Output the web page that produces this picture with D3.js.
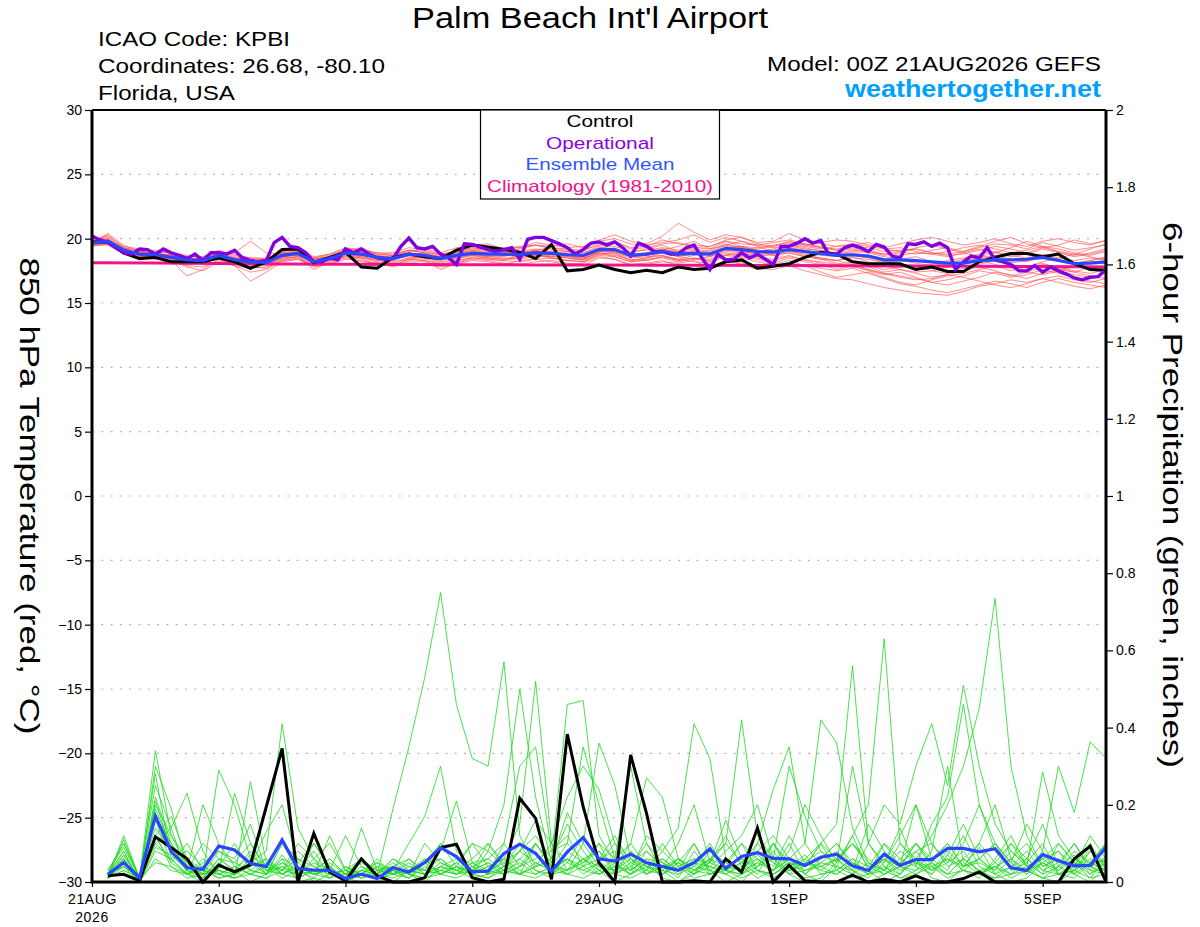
<!DOCTYPE html>
<html>
<head>
<meta charset="utf-8">
<script src="https://cdn.jsdelivr.net/npm/d3@7"></script>
<style>
  body { margin: 0; background: #fff; }
  text { font-family: "Liberation Sans", Arial, sans-serif; }
</style>
</head>
<body>
<svg id="chart" width="1200" height="927"></svg>
<script>
"use strict";

// ---- data ----

// hours after 00Z 21AUG2026
var tempStepHours = 6,
    opStepHours = 3,
    climStepHours = 24,
    precipStepHours = 6;

var dateTickHours = [0, 48, 96, 144, 192, 264, 312, 360];
var dateTickLabels = ["21AUG", "23AUG", "25AUG", "27AUG", "29AUG", "1SEP", "3SEP", "5SEP"];
var tempTicks = [-30, -25, -20, -15, -10, -5, 0, 5, 10, 15, 20, 25, 30];
var precipTicks = [0, 0.2, 0.4, 0.6, 0.8, 1, 1.2, 1.4, 1.6, 1.8, 2];

// 850 hPa temperature, control (6-hourly from 0h)
var controlTemp = [19.75,19.75,18.9,18.45,18.55,18.2,18.2,18.2,18.5,18.2,17.7,18.2,19.15,19.2,18.15,18.55,
  18.95,17.8,17.7,18.55,18.8,18.6,18.45,19.1,19.5,19.35,19.15,18.95,18.45,19.55,17.5,17.6,
  17.95,17.6,17.35,17.55,17.35,17.8,17.6,17.7,18.2,18.35,17.7,17.85,18.05,18.55,18.95,18.8,
  18.2,18.05,18.05,18.05,17.6,17.8,17.45,17.45,18.2,18.55,18.85,18.85,18.6,18.8,18.05,17.6,17.55];

// operational run (3-hourly from 0h)
var operationalTemp = [20.2,19.9,19.7,19.3,18.9,18.8,19.2,19.15,18.8,19.2,18.9,18.7,18.45,18.8,18.3,18.9,
  18.9,18.8,19.1,18.5,18.3,18.2,18.3,19.7,20.1,19.4,19.3,18.9,18.2,18.2,18.5,18.35,
  19.2,18.9,19.2,18.8,18.5,18.4,18.45,19.4,20.05,19.3,19.2,19.4,18.8,18.5,18.0,19.6,
  19.55,19.35,19.15,19.0,19.15,19.3,18.4,19.95,20.1,20.1,19.85,19.6,19.3,18.8,19.15,19.65,
  19.75,19.5,19.75,19.3,18.65,19.65,19.4,19.0,19.0,18.8,18.8,19.3,19.5,18.5,17.6,18.8,
  18.35,18.4,18.9,18.5,18.8,18.4,18.0,19.4,19.4,19.65,20.0,19.65,19.85,18.8,18.8,19.3,
  19.5,19.3,19.0,19.55,19.35,18.65,18.5,19.6,19.55,19.75,19.4,19.65,19.3,17.6,18.2,18.65,
  18.5,19.3,18.35,18.2,18.0,17.5,17.5,17.9,17.4,17.8,17.5,17.25,16.95,16.8,17.0,17.05,17.6];

// ensemble mean (6-hourly from 0h)
var meanTemp = [19.65,19.8,19.1,18.8,18.75,18.55,18.35,18.3,18.7,18.35,18.2,18.15,18.7,18.85,18.2,18.45,
  18.9,18.8,18.55,18.45,18.8,18.7,18.45,18.7,18.85,18.8,18.8,18.75,18.9,18.85,18.75,18.7,
  19.15,19.15,18.7,18.8,19.0,18.8,18.85,18.8,19.25,19.15,19.0,18.95,19.15,19.0,18.85,18.7,
  18.75,18.65,18.35,18.35,18.3,18.2,18.1,18.1,18.3,18.35,18.35,18.4,18.55,18.3,18.05,18.1,18.2];

// climatology 1981-2010 (daily at 00Z)
var climTemp = [18.12,18.1,18.07,18.04,18.01,17.99,17.97,17.96,17.95,17.94,17.93,17.92,17.9,17.88,17.86,17.83,17.8];

// ensemble members, 850 hPa temperature (6-hourly from 0h)
var memberTemp = [
  [19.8,20.1,19.3,19.0,18.9,18.9,18.6,18.6, 19.0,18.8,18.5,18.4,19.0,19.3,18.6,18.8, 19.2,19.1,18.9,18.9,19.3,19.1,18.8,19.0, 19.3,19.1,19.2,19.4,19.5,19.2,19.0,19.1, 19.6,19.8,19.3,19.4,19.9,19.6,19.5,19.4, 19.9,20.1,19.6,19.4,19.8,19.5,19.3,19.2, 19.4,19.3,19.0,19.1,19.2,18.9,18.8,19.0, 19.3,19.6,19.5,19.2,19.7,19.4,19.1,19.3,19.5],
  [19.6,19.7,18.9,18.6,18.5,18.3,17.8,17.5, 18.2,17.9,17.4,17.6,18.3,18.5,17.9,18.1, 18.6,18.4,18.0,17.9,18.3,18.2,17.9,18.1, 18.4,18.3,18.1,18.0,18.2,18.3,18.1,17.9, 18.5,18.4,18.0,18.1,18.3,17.9,18.0,17.8, 18.3,18.1,17.7,17.6,17.9,17.5,17.2,16.9, 16.8,16.5,16.2,16.0,15.8,15.7,15.6,15.9, 16.3,16.5,16.8,16.6,16.9,17.1,16.8,16.6,16.9],
  [19.7,20.4,19.5,19.0,19.1,18.9,18.7,18.5, 18.9,18.6,18.3,18.4,18.9,19.1,18.5,18.7, 19.1,19.3,18.8,18.7,19.0,19.2,18.9,19.3, 19.5,19.6,19.2,19.3,19.7,19.5,19.3,19.4, 19.9,20.3,19.8,19.6,20.2,21.2,20.5,19.9, 20.3,20.1,19.7,19.8,20.4,19.9,19.6,19.4, 19.5,19.7,19.2,19.0,18.8,19.1,19.3,19.0, 19.4,19.8,20.1,19.6,19.3,19.5,19.9,19.6,19.8],
  [19.5,19.6,18.8,18.5,18.4,18.3,17.1,17.6, 18.4,18.0,17.8,17.7,18.4,18.6,17.6,18.2, 18.7,18.5,18.3,18.1,18.5,18.4,18.0,18.2, 18.6,18.5,18.4,18.6,18.7,18.6,18.5,18.3, 18.8,18.9,18.3,18.5,18.7,18.3,18.5,18.2, 18.8,18.6,18.4,18.1,18.5,18.2,18.0,17.6, 17.9,17.5,17.2,17.4,17.0,16.6,16.8,17.1, 17.5,17.3,17.0,17.2,17.6,17.3,17.0,16.7,16.5],
  [19.9,19.9,19.3,19.1,18.7,18.8,18.5,18.4, 18.6,18.9,19.8,18.9,18.8,18.9,18.4,18.6, 19.0,18.9,18.5,18.7,19.1,18.9,18.6,18.8, 19.1,18.9,19.0,18.8,19.1,19.3,19.1,18.9, 19.4,19.1,18.9,19.2,19.5,19.0,19.3,19.2, 19.8,19.4,19.3,19.5,19.7,19.6,19.4,19.1, 19.2,19.0,18.7,18.9,19.3,19.5,19.2,18.9, 18.6,18.9,19.3,19.8,19.4,19.0,18.8,19.2,19.6],
  [19.4,19.6,18.9,18.6,18.6,18.3,18.0,18.1, 18.5,17.9,16.7,17.4,18.2,18.4,17.9,18.0, 18.5,18.2,18.1,17.8,18.2,18.0,17.8,18.0, 18.3,18.2,18.0,18.3,18.4,18.2,18.0,18.1, 18.6,18.4,17.9,18.0,18.2,18.1,18.3,17.7, 18.3,18.0,17.6,17.8,18.1,17.9,17.4,17.0, 17.2,17.4,17.0,16.6,16.4,16.8,17.1,17.3, 17.6,17.9,17.5,17.8,18.1,17.7,17.4,17.8,17.4],
  [19.8,20.0,19.2,18.9,18.9,18.7,18.3,18.2, 18.8,18.3,18.1,18.0,18.6,18.7,18.1,18.4, 18.8,18.7,18.6,18.4,18.7,18.6,18.3,18.6, 18.8,18.7,18.6,18.9,19.0,18.8,18.6,18.5, 19.0,19.3,18.6,18.7,18.9,18.6,18.8,19.1, 19.6,19.3,19.1,18.7,18.9,18.6,18.5,18.3, 18.6,18.2,17.9,17.6,17.4,17.5,17.8,18.0, 18.3,18.0,17.7,17.4,17.2,17.5,17.9,18.2,18.0],
  [19.6,19.9,19.0,18.9,18.9,18.6,18.5,18.4, 18.9,18.5,18.3,18.3,18.9,19.0,18.4,18.6, 19.0,19.0,18.7,18.6,18.9,18.8,18.6,18.9, 19.1,19.0,19.1,19.0,19.2,19.1,19.0,18.9, 19.3,19.4,19.0,19.1,19.3,19.1,19.2,19.0, 19.5,19.3,19.2,19.4,19.6,19.5,19.7,19.9, 19.8,19.5,19.3,19.6,19.9,20.1,19.8,19.5, 19.7,20.0,19.6,19.4,19.8,20.0,19.7,19.5,19.9],
  [19.7,19.6,19.0,18.7,18.6,18.4,18.2,18.4, 18.6,18.4,18.1,18.2,18.6,18.8,18.1,18.3, 18.7,18.6,18.4,18.5,18.6,18.5,18.1,18.5, 18.7,18.6,18.5,18.4,18.6,18.7,18.5,18.4, 18.9,18.8,18.3,18.5,18.9,18.6,18.4,18.6, 19.0,18.9,18.6,18.8,19.0,18.8,18.5,18.3, 18.0,17.6,17.3,17.0,16.8,16.9,17.2,17.0, 16.7,16.4,16.2,16.5,16.9,16.6,16.3,16.1,16.4],
  [19.6,19.8,19.2,18.8,18.7,18.4,18.4,18.0, 18.7,18.2,18.0,17.9,18.5,18.9,18.0,18.4, 18.9,18.8,18.7,18.4,18.8,18.7,18.4,18.6, 18.9,18.8,18.9,18.7,19.0,18.9,18.9,18.7, 19.2,19.1,18.8,18.7,19.2,18.9,19.0,18.7, 19.3,19.2,19.0,19.1,19.3,19.1,18.9,18.8, 19.0,18.9,18.6,18.4,18.6,18.2,17.9,18.2, 18.5,18.7,18.4,18.2,18.6,18.3,18.0,18.3,18.5],
  [19.8,19.7,19.1,18.7,18.7,18.5,18.2,18.1, 18.5,18.1,18.0,18.0,18.5,18.6,18.0,18.3, 18.6,18.5,18.2,17.9,18.4,18.3,17.6,18.1, 18.5,18.4,18.3,18.5,18.7,18.5,18.3,18.2, 18.8,18.7,18.4,18.3,18.6,18.4,18.2,18.1, 18.7,18.9,18.6,18.4,18.7,18.3,18.2,18.0, 18.2,17.9,17.6,17.8,17.9,17.5,17.3,17.7, 18.0,18.3,18.0,17.7,18.0,17.8,17.5,17.3,17.6],
  [19.9,20.2,19.4,19.2,19.0,18.9,18.6,18.6, 19.1,18.7,18.5,18.5,19.0,19.2,18.5,18.8, 19.3,19.1,18.9,18.8,19.1,18.9,18.8,19.0, 19.3,19.2,19.3,19.3,19.5,19.3,19.2,19.1, 19.5,19.7,19.2,19.3,19.6,19.7,19.3,19.4, 19.8,19.6,19.5,19.3,19.5,19.4,19.2,19.4, 19.6,19.4,19.2,19.3,19.0,18.8,19.0,19.3, 19.5,19.2,18.9,19.1,19.4,19.2,18.9,18.7,19.0],
  [19.7,19.8,19.1,18.7,18.8,18.7,18.3,18.3, 18.6,18.3,17.9,18.1,18.6,18.7,18.2,18.5, 18.8,18.7,18.5,18.3,18.7,18.5,18.4,18.5, 18.8,18.6,18.7,18.6,18.8,18.6,18.6,18.4, 19.0,18.9,18.5,18.6,18.7,18.4,18.7,18.9, 19.2,19.0,18.8,18.9,19.1,18.7,18.4,18.1, 17.8,17.6,17.3,17.1,16.9,16.6,16.4,16.7, 17.0,17.4,17.2,16.9,17.3,17.6,17.4,17.1,16.9],
  [19.5,19.7,19.0,18.6,18.6,18.5,18.3,18.2, 18.5,18.3,18.1,18.0,18.4,18.6,17.9,18.3, 18.8,18.6,18.3,18.2,18.5,18.6,18.2,18.4, 18.7,18.5,18.4,18.7,18.8,18.5,18.3,18.4, 18.9,18.6,18.2,18.4,18.5,18.2,18.4,18.3, 18.7,18.5,18.2,18.0,18.3,17.9,17.7,17.5, 17.7,17.3,16.9,16.5,16.3,16.0,15.8,16.1, 16.4,16.7,16.5,16.2,16.6,16.9,16.6,16.4,16.2],
  [19.8,20.0,19.2,18.9,18.8,18.7,18.4,18.3, 18.8,18.4,18.2,18.1,18.8,18.9,18.2,18.5, 19.0,18.9,18.6,18.5,18.8,18.6,18.4,18.7, 19.0,18.9,18.8,18.9,19.1,18.9,18.8,18.6, 19.1,19.0,18.7,18.8,19.1,19.0,18.9,18.8, 19.3,19.4,19.1,19.0,19.4,19.2,19.1,18.9, 19.1,19.0,18.8,18.7,18.9,18.8,18.6,18.9, 19.2,18.9,18.6,18.8,19.2,18.9,18.6,18.8,19.1],
  [19.6,19.9,19.2,18.9,18.9,18.6,18.4,18.5, 18.8,18.5,18.4,18.4,18.8,19.0,18.4,18.6, 19.1,19.0,18.8,18.7,19.1,19.0,18.7,18.9, 19.2,19.1,19.0,19.2,19.5,19.4,19.6,19.3, 19.8,20.0,19.6,19.5,19.7,19.9,20.3,19.7, 20.1,19.8,19.5,19.7,19.9,19.6,19.3,19.1, 19.3,19.1,18.8,19.0,19.2,18.9,18.7,18.8, 19.1,19.4,19.2,18.9,19.3,19.0,18.7,18.9,19.2],
  [19.5,19.5,18.8,18.5,18.4,18.2,17.9,17.8, 18.3,17.9,17.7,17.8,18.3,18.4,17.8,18.0, 18.4,18.3,18.1,18.0,18.4,18.3,18.0,18.3, 18.5,18.4,18.3,18.2,18.4,18.5,18.3,18.2, 18.7,18.6,18.2,18.3,18.6,18.3,18.5,18.4, 18.9,18.7,18.5,18.3,18.6,18.4,18.1,17.8, 18.0,17.8,17.4,17.6,17.3,17.0,17.2,17.5, 17.8,17.5,17.1,17.4,17.8,17.5,17.2,17.0,17.3],
  [19.7,20.3,19.3,18.8,18.9,18.6,18.4,18.3, 18.6,18.5,18.2,18.2,18.7,18.8,18.3,18.4, 18.9,18.8,18.6,18.5,18.8,18.8,18.5,18.8, 19.0,18.8,18.9,18.9,19.0,19.0,18.8,18.7, 19.2,19.0,18.6,18.9,19.1,19.4,19.8,19.2, 19.5,19.8,19.4,19.0,19.2,18.9,18.7,18.6, 18.7,18.5,18.2,18.0,17.8,18.0,18.3,18.5, 18.8,19.0,18.7,18.5,18.8,18.5,18.3,18.5,18.4],
  [19.6,19.8,19.1,18.8,18.7,18.5,18.3,18.4, 18.7,18.4,18.2,18.2,18.7,18.8,18.2,18.4, 18.8,18.7,18.5,18.4,18.7,18.6,18.4,18.6, 18.9,18.8,18.7,18.7,18.9,18.8,18.7,18.6, 19.1,19.0,18.6,18.7,18.9,18.7,18.8,18.6, 19.1,19.0,18.8,18.7,18.9,18.6,18.4,18.3, 18.5,18.4,18.1,18.3,18.1,17.9,18.1,18.4, 18.7,18.4,18.1,18.3,18.7,18.4,18.1,18.3,18.6],
  [19.8,19.9,19.2,18.8,18.8,18.6,18.4,18.2, 18.7,18.4,18.1,18.2,18.8,18.9,18.1,18.6, 18.9,18.8,18.6,18.4,18.8,18.7,18.5,18.7, 18.9,18.8,18.7,18.9,19.1,18.8,18.7,18.5, 19.0,19.1,18.8,18.9,19.2,18.9,19.1,18.9, 19.4,19.2,19.0,19.2,19.5,19.3,19.0,18.7, 18.9,18.6,18.3,18.0,17.9,17.7,17.9,18.2, 18.5,18.3,18.0,17.8,18.2,18.5,18.8,18.6,18.3]
];

// 6-hour precipitation, inches (valid at 6h, 12h, ... 384h)
var controlPrecip = [.016,.02,.003,.117,.089,.06,0,.044, .026,.045,.195,.346,0,.126,.026,.003,
  .06,.016,0,0,.011,.089,.098,.011, 0,.007,.217,.165,.007,.383,.195,.05,
  0,.329,.178,0,0,.003,0,.06, .026,.14,0,.043,.003,0,0,.018,
  0,.007,0,.016,0,0,.009,.026, 0,0,0,0,0,.06,.093,0];

var meanPrecip = [.02,.05,.011,.171,.079,.037,.033,.093, .083,.048,.04,.109,.035,.031,.03,.009,
  .02,.009,.037,.026,.05,.089,.066,.026, .028,.074,.098,.074,.027,.078,.115,.06,
  .054,.072,.05,.04,.03,.05,.086,.035, .066,.076,.061,.06,.043,.064,.072,.042,
  .03,.072,.043,.058,.058,.087,.087,.078, .086,.037,.03,.071,.055,.042,.043,.089];

var memberPrecip = [
  [.02,.08,0,.12,.05,.02,0,.04, .03,0,.02,.06,0,.01,0,0, .02,.02,.19,.35,.53,.75,.46,.32, .30,.57,.12,.04,.06,.15,.08,.03, 0,.02,.05,.01,0,.03,.06,.02, 0,.04,.08,.02,0,.01,.05,.12, .03,0,.02,.06,.01,0,.04,.09, .02,0,.01,.05,.08,.02,0,.04],
  [.03,.1,.01,.34,.12,.06,.02,.08, .05,.1,.03,.02,.04,0,.02,.01, 0,0,.03,.01,.05,.1,.04,.02, .08,.2,.5,.22,.05,.18,.1,.36, .25,.06,.02,.04,.01,.08,.03,0, .02,.06,.03,.1,.02,0,.04,.03, .01,.05,.14,.04,.02,.07,.03,.01, .06,.12,.04,.01,0,.03,.09,.02],
  [.01,.06,0,.3,.19,.04,.01,.03, .02,.05,.08,.41,.14,.06,.03,.01, .02,.01,0,.03,.02,.08,.21,.05, .02,.06,.15,.52,.1,.03,.05,.08, .02,.04,.1,.03,0,.02,.05,.12, .04,.01,.03,.06,.02,.05,.08,.03, 0,.02,.04,.1,.05,.02,.06,.03, .01,.04,.08,.03,.02,.05,.01,.06],
  [.02,.04,.01,.25,.14,.23,.08,.02, .01,.03,.06,.02,.05,.1,.04,0, .03,.02,.05,.02,0,.04,.06,.03, .1,.04,.08,.12,.06,.46,.47,.12, .05,.02,.08,.04,.06,.03,.02,.05, .1,.03,.01,.04,.07,.02,.03,.06, .02,.04,.01,.03,.08,.3,.05,.02, .04,.01,.03,.08,.02,.01,.05,.03],
  [.01,.05,0,.21,.08,.03,.2,.1, .04,.02,.01,.05,.02,.03,.01,.02, .05,.03,.02,.06,.03,.02,.05,.1, .04,.02,.06,.03,.01,.08,.05,.1, .06,.03,.12,.08,.14,.41,.32,.06, .03,.08,.05,.02,.06,.1,.15,.56, .1,.04,.02,.06,.03,.05,.12,.04, .02,.06,.03,.01,.04,.1,.03,.02],
  [.02,.07,.01,.17,.1,.05,.02,.29, .2,.06,.02,.04,.01,.03,.06,.02, .01,.04,.02,.01,.04,.03,.02,.05, .03,.05,.02,.1,.04,.02,.06,.04, .02,.08,.04,.02,.05,.03,.06,.1, .42,.12,.06,.03,.05,.08,.04,.12, .2,.63,.1,.05,.03,.08,.04,.06, .1,.03,.05,.02,.04,.07,.02,.05],
  [.01,.04,0,.08,.06,.02,.04,.02, .01,.26,.05,.02,.04,.02,.12,.03, .02,.01,.04,.02,.01,.03,.02,.04, .02,.03,.05,.02,.04,.06,.03,.05, .1,.04,.02,.06,.03,.05,.04,.02, .05,.1,.24,.35,.1,.42,.36,.14, .05,.03,.1,.06,.12,.2,.3,.45, .735,.3,.12,.04,.06,.03,.08,.05],
  [.02,.1,.01,.14,.08,.03,.01,.05, .02,.04,.13,.2,.05,.02,.03,.12, .04,.02,.01,.03,.06,.02,.01,.03, .05,.02,.04,.08,.02,.03,.06,.02, .04,.03,.06,.02,.05,.1,.03,.02, .04,.06,.02,.05,.03,.04,.06,.02, .1,.2,.15,.3,.41,.25,.51,.3, .15,.08,.04,.285,.12,.06,.03,.1],
  [.01,.03,.01,.12,.17,.06,.03,.02, .04,.02,.01,.03,.02,.1,.04,.01, .14,.03,.02,.05,.02,.04,.03,.02, .01,.04,.02,.05,.03,.06,.04,.02, .05,.02,.04,.03,.06,.02,.04,.03, .02,.05,.03,.06,.1,.04,.02,.05, .03,.06,.04,.02,.05,.1,.04,.06, .1,.05,.15,.08,.3,.18,.363,.32],
  [.02,.06,0,.2,.12,.04,.02,.03, .23,.1,.04,.03,.06,.02,.01,.04, .02,.05,.03,.1,.17,.3,.08,.04, .06,.1,.3,.35,.08,.1,.35,.2, .06,.3,.1,.05,.02,.06,.04,.08, .12,.2,.06,.3,.17,.08,.05,.1, .06,.03,.08,.05,.02,.07,.15,.06, .03,.08,.05,.1,.02,.04,.12,.06],
  [.01,.12,.01,.1,.14,.02,.05,.08, .06,.15,.03,.05,.03,.08,.02,.01, .03,.02,.06,.04,.03,.1,.06,.02, .04,.06,.02,.04,.05,.03,.06,.08, .04,.1,.27,.22,.06,.03,.05,.16, .06,.04,.1,.05,.02,.06,.1,.04, .02,.1,.04,.2,.1,.05,.08,.02, .05,.02,.04,.06,.1,.05,.02,.07],
  [.02,.05,0,.06,.03,.02,.01,.06, .03,.08,.02,.1,.03,.01,.05,.02, .06,.01,.02,.03,.05,.02,.04,.1, .08,.04,.1,.03,.02,.05,.12,.06, .12,.05,.03,.1,.04,.02,.08,.05, .03,.07,.04,.12,.05,.03,.06,.1, .04,.02,.05,.08,.03,.06,.04,.1, .2,.06,.1,.04,.06,.02,.05,.1],
  [.03,.09,.01,.28,.06,.08,.04,.01, .02,.04,.06,.03,.08,.04,.02,.03, .01,.03,.04,.02,.05,.06,.03,.01, .02,.1,.04,.06,.08,.12,.04,.1, .02,.05,.08,.04,.1,.2,.05,.03, .02,.1,.05,.03,.04,.1,.06,.03, .15,.08,.04,.1,.06,.03,.1,.2, .1,.05,.02,.06,.08,.04,.1,.03],
  [.01,.07,0,.22,.1,.03,.02,.04, .1,.03,.02,.07,.02,.05,.03,.02, .02,.04,.03,.01,.06,.02,.04,.03, .03,.02,.04,.1,.05,.02,.04,.06, .08,.03,.06,.05,.03,.1,.02,.04, .06,.03,.02,.05,.04,.1,.03,.06, .04,.1,.06,.04,.15,.22,.46,.2, .08,.04,.06,.02,.1,.05,.04,.02],
  [.02,.04,.01,.16,.05,.1,.03,.02, .04,.02,.05,.03,.1,.06,.01,.04, .02,.06,.02,.03,.02,.04,.02,.05, .06,.03,.08,.05,.03,.06,.02,.05, .03,.06,.04,.02,.06,.04,.1,.03, .05,.02,.1,.04,.06,.03,.02,.05, .02,.06,.03,.05,.04,.02,.06,.03, .04,.06,.02,.05,.03,.06,.04,.02],
  [.01,.06,0,.12,.04,.02,.06,.03, .02,.05,.02,.06,.04,.02,.03,.01, .04,.02,.06,.03,.02,.05,.03,.04, .02,.04,.06,.1,.04,.03,.1,.04, .03,.08,.02,.04,.05,.02,.06,.04, .1,.06,.03,.08,.2,.12,.05,.3, .1,.05,.12,.2,.06,.1,.04,.05, .03,.1,.06,.15,.04,.02,.08,.04],
  [.02,.11,.01,.19,.09,.04,.01,.06, .03,.07,.04,.02,.01,.03,.06,.02, .03,.05,.02,.04,.03,.06,.02,.03, .05,.03,.02,.04,.1,.05,.03,.02, .04,.02,.05,.03,.02,.04,.03,.06, .02,.04,.06,.02,.03,.05,.04,.02, .05,.02,.04,.03,.05,.02,.03,.06, .02,.04,.03,.05,.02,.03,.06,.05],
  [.01,.03,.01,.05,.04,.01,.02,.03, .01,.02,.04,.01,.03,.02,.04,.01, .02,.01,.03,.02,.01,.02,.04,.02, .01,.03,.02,.01,.03,.02,.01,.03, .02,.01,.03,.02,.04,.01,.02,.03, .01,.03,.02,.04,.01,.02,.03,.01, .02,.03,.01,.02,.04,.01,.03,.02, .01,.02,.03,.01,.02,.03,.01,.02],
  [.02,.08,0,.09,.07,.03,.1,.06, .05,.03,.02,.1,.06,.04,.02,.03, .06,.03,.04,.02,.1,.05,.03,.06, .1,.05,.08,.16,.1,.22,.3,.24, .1,.06,.03,.08,.04,.06,.05,.1, .05,.08,.12,.06,.04,.06,.1,.05, .03,.06,.02,.08,.1,.04,.06,.1, .05,.1,.04,.06,.03,.08,.05,.1],
  [.01,.05,.01,.1,.06,.02,.03,.01, .02,.06,.03,.04,.02,.06,.1,.03, .01,.02,.04,.06,.02,.03,.05,.02, .04,.06,.03,.02,.04,.1,.06,.03, .06,.1,.04,.06,.03,.05,.02,.04, .03,.05,.1,.03,.05,.04,.06,.1, .05,.03,.06,.1,.04,.06,.03,.02, .04,.02,.06,.03,.05,.1,.04,.06]
];

// ---- layout ----
var svg = d3.select("#chart");
var plotLeft = 92, plotRight = 1106, plotTop = 110, plotBottom = 882;

var x = d3.scaleLinear().domain([0, 384]).range([plotLeft, plotRight]);
var yT = d3.scaleLinear().domain([-30, 30]).range([plotBottom, plotTop]);
var yP = d3.scaleLinear().domain([0, 2]).range([plotBottom, plotTop]);

svg.append("rect").attr("width", 1200).attr("height", 927).attr("fill", "#fff");

// dotted grid on temperature ticks
svg.append("g")
    .selectAll("line")
    .data(tempTicks.filter(function (t) { return t > -30 && t < 30; }))
    .enter().append("line")
    .attr("x1", plotLeft).attr("x2", plotRight)
    .attr("y1", function (d) { return yT(d); })
    .attr("y2", function (d) { return yT(d); })
    .attr("stroke", "#b4b4b4")
    .attr("stroke-width", 1.2)
    .attr("stroke-dasharray", "2,7.3");

// lines
function seriesLine(yScale, stepHours, firstHour) {
    return d3.line()
        .x(function (d, i) { return x(firstHour + i * stepHours); })
        .y(function (d) { return yScale(d); });
}

var plot = svg.append("g");

plot.append("g").selectAll("path")
    .data(memberTemp)
    .enter().append("path")
    .attr("d", seriesLine(yT, tempStepHours, 0))
    .attr("fill", "none")
    .attr("stroke", "#ff4a4a")
    .attr("stroke-opacity", 0.8)
    .attr("stroke-width", 0.8);

plot.append("g").selectAll("path")
    .data(memberPrecip)
    .enter().append("path")
    .attr("d", seriesLine(yP, precipStepHours, precipStepHours))
    .attr("fill", "none")
    .attr("stroke", "#1ed81e")
    .attr("stroke-width", 0.8);

plot.append("path")
    .datum(climTemp)
    .attr("d", seriesLine(yT, climStepHours, 0))
    .attr("fill", "none")
    .attr("stroke", "#f0148c")
    .attr("stroke-width", 3);

plot.append("path")
    .datum(controlPrecip)
    .attr("d", seriesLine(yP, precipStepHours, precipStepHours))
    .attr("fill", "none")
    .attr("stroke", "#000")
    .attr("stroke-width", 3);

plot.append("path")
    .datum(controlTemp)
    .attr("d", seriesLine(yT, tempStepHours, 0))
    .attr("fill", "none")
    .attr("stroke", "#000")
    .attr("stroke-width", 3);

plot.append("path")
    .datum(operationalTemp)
    .attr("d", seriesLine(yT, opStepHours, 0))
    .attr("fill", "none")
    .attr("stroke", "#8000e0")
    .attr("stroke-width", 3.4);

plot.append("path")
    .datum(meanPrecip)
    .attr("d", seriesLine(yP, precipStepHours, precipStepHours))
    .attr("fill", "none")
    .attr("stroke", "#2a46ff")
    .attr("stroke-width", 3.2);

plot.append("path")
    .datum(meanTemp)
    .attr("d", seriesLine(yT, tempStepHours, 0))
    .attr("fill", "none")
    .attr("stroke", "#2a46ff")
    .attr("stroke-width", 3.2);

// ---- axes ----
var leftAxis = svg.append("g")
    .attr("transform", "translate(" + plotLeft + ",0)")
    .call(d3.axisLeft(yT).tickValues(tempTicks).tickSize(7).tickPadding(3).tickFormat(d3.format("d")));

var rightAxis = svg.append("g")
    .attr("transform", "translate(" + plotRight + ",0)")
    .call(d3.axisRight(yP).tickValues(precipTicks).tickSize(7).tickPadding(3)
        .tickFormat(function (d) { return String(+d.toFixed(1)); }));

var bottomAxis = svg.append("g")
    .attr("transform", "translate(0," + plotBottom + ")")
    .call(d3.axisBottom(x).tickValues(dateTickHours).tickSize(5).tickPadding(7)
        .tickFormat(function (d, i) { return dateTickLabels[i]; }));

[leftAxis, rightAxis, bottomAxis].forEach(function (g) {
    g.select(".domain").remove();
    g.selectAll(".tick line").attr("stroke", "#000").attr("stroke-width", 1.2);
    g.selectAll(".tick text")
        .attr("fill", "#000")
        .style("font-size", "14px")
        .style("font-family", "\"Liberation Sans\", Arial, sans-serif");
});
bottomAxis.selectAll(".tick text").style("letter-spacing", "0.6px");

svg.append("text")
    .attr("x", x(0)).attr("y", 922)
    .attr("text-anchor", "middle")
    .style("font-size", "14px")
    .style("letter-spacing", "0.6px")
    .text("2026");

// frame
svg.append("line").attr("x1", plotLeft).attr("x2", plotRight).attr("y1", plotTop).attr("y2", plotTop)
    .attr("stroke", "#000").attr("stroke-width", 2);
svg.append("path")
    .attr("d", "M" + plotLeft + "," + plotTop + "V" + plotBottom + "H" + plotRight + "V" + plotTop)
    .attr("fill", "none").attr("stroke", "#000").attr("stroke-width", 3);

// ---- legend ----
var legendItems = [
    { label: "Control", color: "#000", len: 67 },
    { label: "Operational", color: "#8a00e6", len: 108 },
    { label: "Ensemble Mean", color: "#3355ff", len: 149 },
    { label: "Climatology (1981-2010)", color: "#f0148c", len: 226 }
];
svg.append("rect")
    .attr("x", 480.5).attr("y", plotTop).attr("width", 239).attr("height", 89)
    .attr("fill", "#fff").attr("stroke", "#000").attr("stroke-width", 1.2);
svg.append("g").selectAll("text")
    .data(legendItems)
    .enter().append("text")
    .attr("x", 600)
    .attr("y", function (d, i) { return 127 + i * 21.5; })
    .attr("text-anchor", "middle")
    .attr("fill", function (d) { return d.color; })
    .attr("textLength", function (d) { return d.len; })
    .attr("lengthAdjust", "spacingAndGlyphs")
    .style("font-size", "17px")
    .text(function (d) { return d.label; });

// ---- titles ----
function label(txt, xPos, yPos, size, len, extra) {
    var t = svg.append("text")
        .attr("x", xPos).attr("y", yPos)
        .style("font-size", size + "px")
        .attr("textLength", len)
        .attr("lengthAdjust", "spacingAndGlyphs")
        .text(txt);
    if (extra) { extra(t); }
    return t;
}

label("Palm Beach Int'l Airport", 412, 28, 29, 356);
label("ICAO Code: KPBI", 98, 46, 21, 192);
label("Coordinates: 26.68, -80.10", 98, 73, 21, 287);
label("Florida, USA", 98, 100, 21, 137);
label("Model: 00Z 21AUG2026 GEFS", 767, 71, 21, 334);
label("weathertogether.net", 845, 97, 23, 256, function (t) {
    t.attr("fill", "#00a0ff").style("font-weight", "bold");
});

svg.append("text")
    .attr("transform", "translate(20,496) rotate(90)")
    .attr("text-anchor", "middle")
    .attr("textLength", 477)
    .attr("lengthAdjust", "spacingAndGlyphs")
    .style("font-size", "28px")
    .text("850 hPa Temperature (red, \u00B0C)");

svg.append("text")
    .attr("transform", "translate(1163,495) rotate(90)")
    .attr("text-anchor", "middle")
    .attr("textLength", 546)
    .attr("lengthAdjust", "spacingAndGlyphs")
    .style("font-size", "28px")
    .text("6-hour Precipitation (green, inches)");
</script>
</body>
</html>
